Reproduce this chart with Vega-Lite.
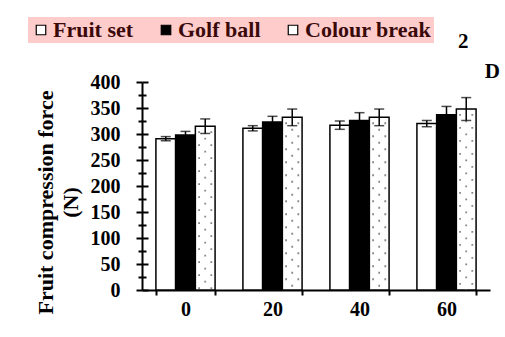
{
  "$schema": "https://vega.github.io/schema/vega-lite/v6.json",
  "width": 348,
  "height": 208,
  "autosize": {"type": "none"},
  "padding": {"left": 142, "top": 82, "right": 15, "bottom": 47},
  "background": "white",
  "config": {"view": {"stroke": null}, "font": "Liberation Serif"},
  "title": {
    "text": ["2\u00a0\u00a0\u00a0\u00a0\u00a0\u00a0\u200b", "D"],
    "anchor": "end",
    "align": "right",
    "dx": 10,
    "offset": -86,
    "baseline": "bottom",
    "font": "Liberation Serif",
    "fontSize": 21,
    "fontWeight": "bold",
    "lineHeight": 30,
    "color": "black"
  },
  "data": {
    "values": [
      {"dose": "0", "group": "Fruit set", "value": 291, "err": 4},
      {"dose": "0", "group": "Golf ball", "value": 298, "err": 7},
      {"dose": "0", "group": "Colour break", "value": 315, "err": 14},
      {"dose": "20", "group": "Fruit set", "value": 311, "err": 5},
      {"dose": "20", "group": "Golf ball", "value": 323, "err": 11},
      {"dose": "20", "group": "Colour break", "value": 332, "err": 16},
      {"dose": "40", "group": "Fruit set", "value": 317, "err": 8},
      {"dose": "40", "group": "Golf ball", "value": 326, "err": 15},
      {"dose": "40", "group": "Colour break", "value": 332, "err": 16},
      {"dose": "60", "group": "Fruit set", "value": 320, "err": 6},
      {"dose": "60", "group": "Golf ball", "value": 337, "err": 16},
      {"dose": "60", "group": "Colour break", "value": 348, "err": 22}
    ]
  },
  "layer": [
    {
      "mark": {"type": "bar", "stroke": "black", "strokeWidth": 1.5},
      "encoding": {
        "x": {
          "field": "dose",
          "type": "ordinal",
          "sort": ["0", "20", "40", "60"],
          "scale": {"paddingInner": 0.32, "paddingOuter": 0.16},
          "axis": {
            "title": null,
            "labelAngle": 0,
            "tickBand": "extent",
            "tickSize": 5,
            "tickWidth": 2,
            "tickColor": "black",
            "domainColor": "black",
            "domainWidth": 2,
            "labelFont": "Liberation Serif",
            "labelFontSize": 20,
            "labelFontWeight": "bold",
            "labelColor": "black",
            "labelPadding": 4
          }
        },
        "xOffset": {
          "field": "group",
          "type": "nominal",
          "sort": ["Fruit set", "Golf ball", "Colour break"],
          "scale": {"paddingInner": 0, "paddingOuter": 0}
        },
        "y": {
          "field": "value",
          "type": "quantitative",
          "scale": {"domain": [0, 400], "nice": false},
          "axis": {
            "values": [0, 25, 50, 75, 100, 125, 150, 175, 200, 225, 250, 275, 300, 325, 350, 375, 400],
            "labelExpr": "datum.value % 50 === 0 ? datum.label : ''",
            "tickSize": {"condition": {"test": "datum.value % 50 === 0", "value": 6}, "value": 4},
            "tickWidth": 2,
            "tickColor": "black",
            "domainColor": "black",
            "domainWidth": 2,
            "grid": false,
            "labelFont": "Liberation Serif",
            "labelFontSize": 20,
            "labelFontWeight": "bold",
            "labelColor": "black",
            "labelPadding": 16,
            "title": ["Fruit compression force", "(N)"],
            "titleFont": "Liberation Serif",
            "titleFontSize": 22,
            "titleFontWeight": "bold",
            "titleColor": "black",
            "titleAngle": -90,
            "titleX": -85,
            "titleY": 120,
            "titleAlign": "center",
            "titleBaseline": "bottom",
            "titleLineHeight": 25
          }
        },
        "fill": {
          "field": "group",
          "type": "nominal",
          "scale": {"domain": ["Fruit set", "Golf ball", "Colour break"], "range": ["white", "black", "white"]},
          "legend": {
            "title": null,
            "orient": "none",
            "legendX": -114,
            "legendY": -65,
            "direction": "horizontal",
            "fillColor": "#ffcccc",
            "padding": 2,
            "symbolType": "square",
            "symbolSize": 90,
            "symbolStrokeColor": "black",
            "symbolStrokeWidth": 1.2,
            "labelFont": "Liberation Serif",
            "labelFontSize": 22,
            "labelFontWeight": "bold",
            "labelColor": "#3a0a0a",
            "labelOffset": 1,
            "columnPadding": 21,
            "labelLimit": 300
          }
        }
      }
    },
    {
      "transform": [{"filter": "datum.group === 'Colour break'"}],
      "mark": {"type": "rule", "color": "#888888", "strokeWidth": 1.8, "strokeDash": [1.8, 11.2], "strokeDashOffset": -5},
      "encoding": {
        "x": {"field": "dose", "type": "ordinal", "bandPosition": 0.73},
        "y": {"field": "value", "type": "quantitative", "axis": null},
        "y2": {"datum": 0}
      }
    },
    {
      "transform": [{"filter": "datum.group === 'Colour break'"}],
      "mark": {"type": "rule", "color": "#888888", "strokeWidth": 1.8, "strokeDash": [1.8, 11.2], "strokeDashOffset": -11.5},
      "encoding": {
        "x": {"field": "dose", "type": "ordinal", "bandPosition": 0.833},
        "y": {"field": "value", "type": "quantitative", "axis": null},
        "y2": {"datum": 0}
      }
    },
    {
      "transform": [{"filter": "datum.group === 'Colour break'"}],
      "mark": {"type": "rule", "color": "#888888", "strokeWidth": 1.8, "strokeDash": [1.8, 11.2], "strokeDashOffset": -5},
      "encoding": {
        "x": {"field": "dose", "type": "ordinal", "bandPosition": 0.936},
        "y": {"field": "value", "type": "quantitative", "axis": null},
        "y2": {"datum": 0}
      }
    },
    {
      "mark": {
        "type": "errorbar",
        "ticks": {"size": 10, "thickness": 1.5, "color": "black"},
        "rule": {"strokeWidth": 1.5, "color": "black"}
      },
      "encoding": {
        "x": {"field": "dose", "type": "ordinal"},
        "xOffset": {
          "field": "group",
          "type": "nominal",
          "sort": ["Fruit set", "Golf ball", "Colour break"]
        },
        "y": {
          "field": "value",
          "type": "quantitative",
          "axis": {
            "orient": "left",
            "values": [0, 25, 50, 75, 100, 125, 150, 175, 200, 225, 250, 275, 300, 325, 350, 375, 400],
            "tickSize": {"condition": {"test": "datum.value % 50 === 0", "value": -6}, "value": -4},
            "tickWidth": 2,
            "tickColor": "black",
            "labels": false,
            "domain": false,
            "grid": false,
            "title": null
          }
        },
        "yError": {"field": "err"}
      }
    }
  ],
  "resolve": {"axis": {"y": "independent"}}
}
